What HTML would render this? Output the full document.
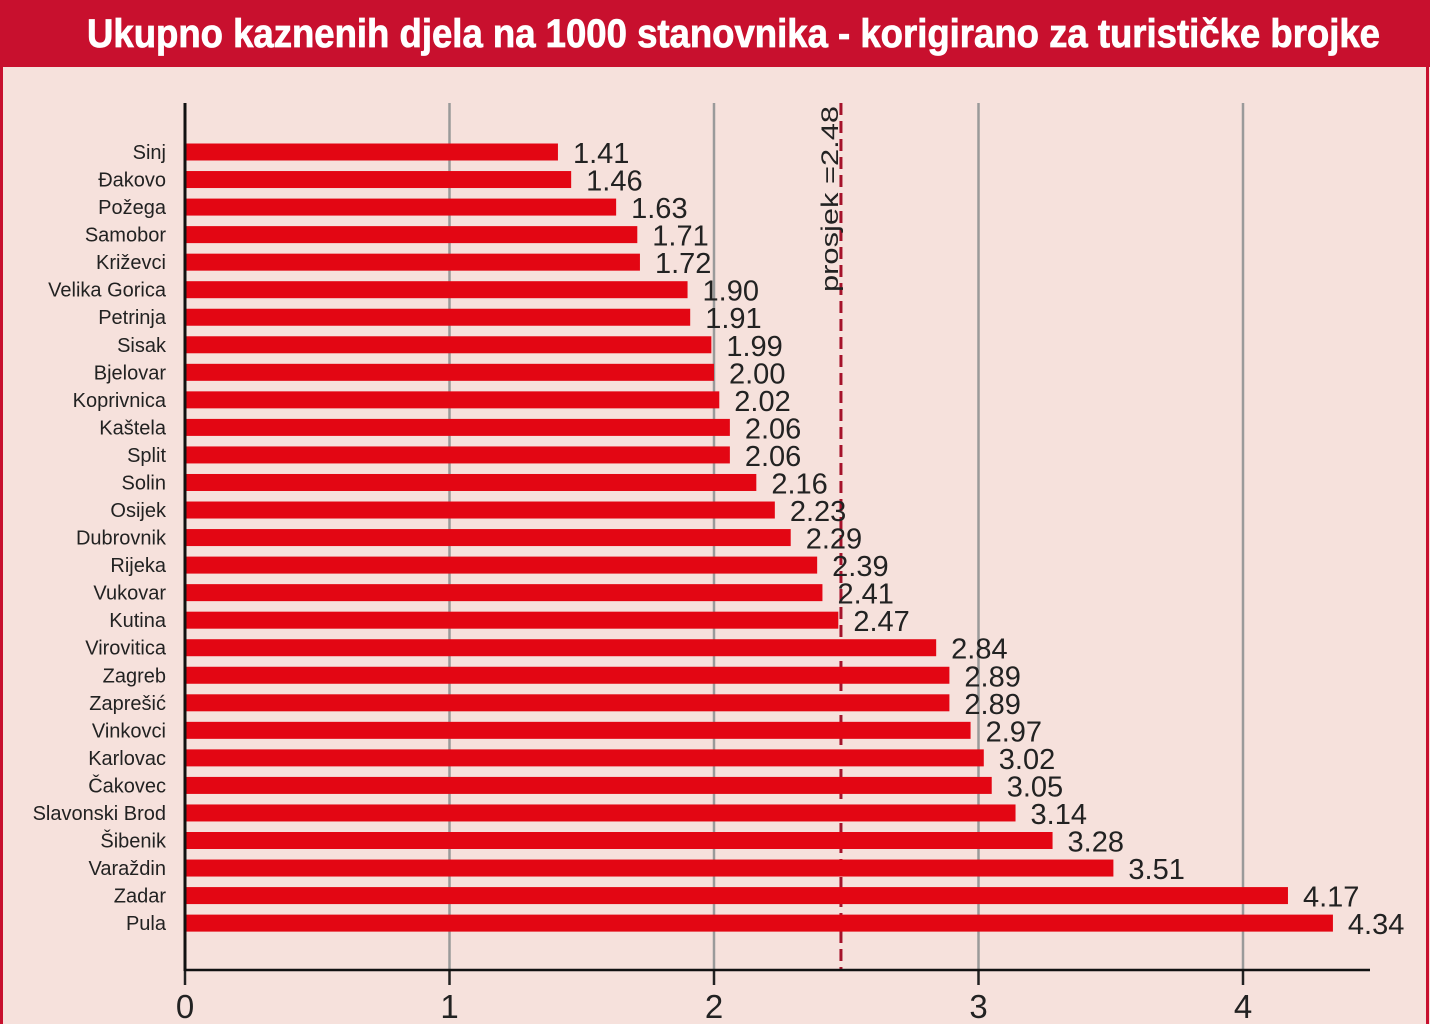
<!DOCTYPE html>
<html><head><meta charset="utf-8"><style>
html,body{margin:0;padding:0;background:#f6e1dc;}
svg{display:block;}
</style></head><body>
<svg id="chart" width="1430" height="1024" xmlns="http://www.w3.org/2000/svg">
<rect x="0" y="0" width="1430" height="1024" fill="#f6e1dc"/>
<rect x="1.5" y="1.5" width="1426" height="1030" fill="none" stroke="#c8102e" stroke-width="3"/>
<rect x="0" y="0" width="1430" height="67" fill="#c8102e"/>
<text x="87" y="47" textLength="1293" lengthAdjust="spacingAndGlyphs" font-family="'Liberation Sans Narrow','Liberation Sans',sans-serif" font-weight="bold" font-size="40" fill="#fff" stroke="#fff" stroke-width="0.8">Ukupno kaznenih djela na 1000 stanovnika - korigirano za turističke brojke</text>
<g id="grid"></g><g id="bars"></g><g id="axes"></g>
</svg>
<script>
const categories=["Sinj","Đakovo","Požega","Samobor","Križevci","Velika Gorica","Petrinja","Sisak","Bjelovar","Koprivnica","Kaštela","Split","Solin","Osijek","Dubrovnik","Rijeka","Vukovar","Kutina","Virovitica","Zagreb","Zaprešić","Vinkovci","Karlovac","Čakovec","Slavonski Brod","Šibenik","Varaždin","Zadar","Pula"];
const values=[1.41,1.46,1.63,1.71,1.72,1.90,1.91,1.99,2.00,2.02,2.06,2.06,2.16,2.23,2.29,2.39,2.41,2.47,2.84,2.89,2.89,2.97,3.02,3.05,3.14,3.28,3.51,4.17,4.34];
const xTicks=[0,1,2,3,4];
const average=2.48;
const NS="http://www.w3.org/2000/svg";
const x=v=>185+v*264.5;
const y=i=>152+i*27.54;
function mk(tag,attrs,parent,txt){const e=document.createElementNS(NS,tag);for(const k in attrs)e.setAttribute(k,attrs[k]);if(txt!==undefined)e.textContent=txt;parent.appendChild(e);return e;}
const grid=document.getElementById('grid'),bars=document.getElementById('bars'),axes=document.getElementById('axes');
xTicks.forEach(t=>{
  if(t>0){const g=mk('line',{x1:x(t),x2:x(t),y1:103,y2:970,stroke:'#9a9a9a','stroke-width':2.5},grid);
  
  }
  const tk=mk('line',{x1:x(t),x2:x(t),y1:970,y2:985,stroke:'#222','stroke-width':2.5},axes);
  
  
  const tl=mk('text',{x:x(t),y:1018,'text-anchor':'middle','font-family':'Liberation Sans, sans-serif','font-size':33,fill:'#222'},axes,String(t));
  
  
});
const avg=mk('line',{x1:x(average),x2:x(average),y1:103,y2:970,stroke:'#a5122a','stroke-width':3,'stroke-dasharray':'12,6'},grid);


const avl=mk('text',{transform:`translate(${x(average)-3},292) rotate(-90)`,'font-family':'Liberation Sans, sans-serif','font-size':24,textLength:186,lengthAdjust:'spacingAndGlyphs',fill:'#222'},grid,'prosjek =2.48');


categories.forEach((c,i)=>{
  const b=mk('rect',{x:x(0),y:y(i)-8.5,width:x(values[i])-x(0),height:17,fill:'#e30613'},bars);
  
  
  const v=mk('text',{x:x(values[i])+15,y:y(i)+11,'font-family':'Liberation Sans, sans-serif','font-size':29,fill:'#222'},bars,values[i].toFixed(2));
  
  
  const l=mk('text',{x:166,y:y(i)+7,'text-anchor':'end','font-family':'Liberation Sans, sans-serif','font-size':20,fill:'#222'},bars,c);
  
  
});
const ya=mk('line',{x1:185,x2:185,y1:103,y2:971,stroke:'#111','stroke-width':3},axes);


const xa=mk('line',{x1:184,x2:1370,y1:970,y2:970,stroke:'#111','stroke-width':2.5},axes);


</script>
</body></html>
